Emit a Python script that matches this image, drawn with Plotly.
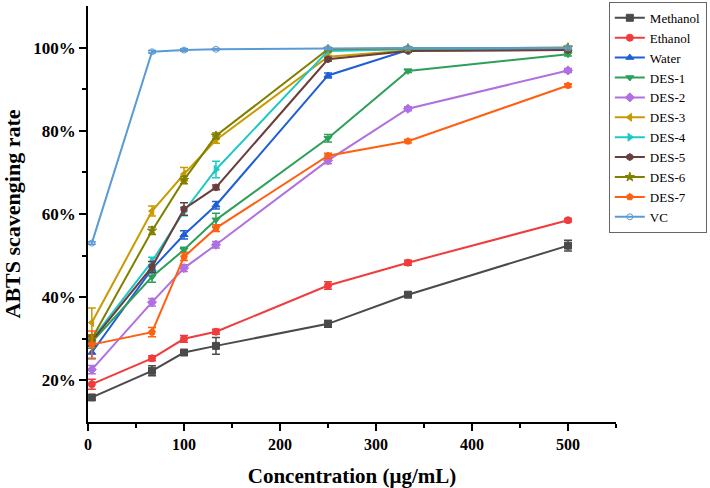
import plotly.graph_objects as go

conc = [4, 66.7, 100, 133.3, 250, 333.3, 500]

methanol = [15.9, 22.3, 26.7, 28.3, 33.6, 40.6, 52.4]
ethanol = [19.1, 25.3, 30.0, 31.7, 42.8, 48.3, 58.5]
water = [26.7, 46.8, 55.0, 62.1, 93.3, 99.4, 99.7]
des1 = [29.2, 44.9, 51.4, 58.6, 78.2, 94.4, 98.4]
des2 = [22.6, 38.8, 47.0, 52.6, 72.9, 85.3, 94.5]
des3 = [33.9, 60.7, 69.6, 77.8, 97.8, 99.3, 99.5]
des4 = [29.8, 48.6, 60.6, 70.7, 99.2, 99.6, 99.8]
des5 = [29.5, 47.3, 61.2, 66.4, 97.2, 99.2, 99.4]
des6 = [30.0, 56.0, 68.2, 78.8, 99.6, 99.8, 100.0]
des7 = [28.6, 31.6, 49.7, 56.6, 74.0, 77.5, 90.9]
vc = [53.0, 99.0, 99.4, 99.6, 99.8, 99.9, 99.9]

err_methanol = [0.6, 1.2, 0.4, 2.0, 0.8, 0.5, 1.3]
err_ethanol = [1.2, 0.6, 0.8, 0.6, 0.9, 0.6, 0.4]
err_water = [1.5, 1.0, 1.0, 0.9, 0.6, 0.3, 0.3]
err_des1 = [1.5, 1.3, 0.6, 1.6, 0.9, 0.4, 0.4]
err_des2 = [1.0, 0.9, 0.8, 0.8, 0.8, 0.5, 0.5]
err_des3 = [3.5, 1.2, 1.6, 0.8, 0.3, 0.3, 0.3]
err_des4 = [1.2, 1.0, 1.0, 2.0, 0.3, 0.3, 0.3]
err_des5 = [1.2, 1.3, 1.5, 0.6, 0.4, 0.3, 0.3]
err_des6 = [1.0, 0.9, 0.9, 0.7, 0.4, 0.3, 0.3]
err_des7 = [3.3, 1.1, 0.9, 0.8, 0.6, 0.4, 0.4]
err_vc = [0.3, 0.3, 0.3, 0.2, 0.2, 0.2, 0.2]

names = ["Methanol", "Ethanol", "Water", "DES-1", "DES-2", "DES-3",
         "DES-4", "DES-5", "DES-6", "DES-7", "VC"]
series = [methanol, ethanol, water, des1, des2, des3, des4, des5, des6, des7, vc]
errors = [err_methanol, err_ethanol, err_water, err_des1, err_des2, err_des3,
          err_des4, err_des5, err_des6, err_des7, err_vc]
colors = ["#4a4a4a", "#f03c3c", "#1f5fd6", "#2ca05a", "#b070e0", "#c89a00",
          "#1ec8c8", "#6b3e3e", "#808000", "#ff6010", "#5b9bd5"]
symbols = ["square", "circle", "triangle-up", "triangle-down", "diamond",
           "triangle-left", "triangle-right", "hexagon", "star", "pentagon",
           "circle-open-dot"]

fig = go.Figure()
for n, s, e, c, m in zip(names, series, errors, colors, symbols):
    fig.add_trace(go.Scatter(
        x=conc, y=s, name=n, mode="lines+markers",
        line=dict(color=c, width=2),
        marker=dict(symbol=m, size=7 if m != "circle-open-dot" else 6, color=c,
                    line=dict(color=c, width=1)),
        error_y=dict(type="data", array=e, visible=True, color=c,
                     thickness=1.5, width=4),
    ))

font_family = "Liberation Serif"
fig.update_layout(
    width=710, height=488,
    margin=dict(l=88, r=94, t=6, b=66, autoexpand=False),
    paper_bgcolor="white", plot_bgcolor="white",
    font=dict(family=font_family, color="black"),
    showlegend=True,
    legend=dict(x=1.172, y=1.01, xanchor="right", yanchor="top",
                bordercolor="#666666", borderwidth=1, bgcolor="white",
                font=dict(family=font_family, size=13, color="black"),
                tracegroupgap=0, itemwidth=30),
    xaxis=dict(
        range=[0, 550], tickvals=[0, 100, 200, 300, 400, 500],
        ticks="outside", ticklen=7, tickwidth=1.5, tickcolor="black",
        showline=True, linecolor="black", linewidth=1.5,
        showgrid=False, zeroline=False,
        minor=dict(tickvals=[50, 150, 250, 350, 450, 550], ticks="outside",
                   ticklen=4, tickwidth=1.5, tickcolor="black"),
        tickfont=dict(family=font_family, size=16, color="black", weight="bold"),
        title=dict(text="<b>Concentration (μg/mL)</b>",
                   font=dict(family=font_family, size=21, color="black"),
                   standoff=16),
    ),
    yaxis=dict(
        range=[10, 110], tickvals=[20, 40, 60, 80, 100],
        ticktext=["20%", "40%", "60%", "80%", "100%"],
        ticks="outside", ticklen=7, tickwidth=1.5, tickcolor="black",
        showline=True, linecolor="black", linewidth=1.5,
        showgrid=False, zeroline=False,
        minor=dict(tickvals=[30, 50, 70, 90], ticks="outside",
                   ticklen=4, tickwidth=1.5, tickcolor="black"),
        tickfont=dict(family=font_family, size=17, color="black", weight="bold"),
        title=dict(text="<b>ABTS scavenging rate</b>",
                   font=dict(family=font_family, size=22, color="black"),
                   standoff=10),
    ),
)

fig.write_html("out.html")
